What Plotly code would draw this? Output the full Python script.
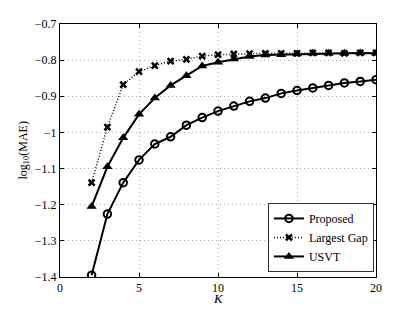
import plotly.graph_objects as go

K = list(range(2, 21))
proposed = [-1.395, -1.226, -1.139, -1.076, -1.032, -1.012, -0.980, -0.959, -0.941,
            -0.927, -0.914, -0.905, -0.892, -0.884, -0.877, -0.870, -0.863, -0.859, -0.854]
largest_gap = [-1.139, -0.985, -0.868, -0.832, -0.815, -0.803, -0.798, -0.789, -0.785,
               -0.783, -0.782, -0.781, -0.781, -0.781, -0.780, -0.780, -0.781, -0.780, -0.780]
usvt = [-1.205, -1.095, -1.015, -0.950, -0.905, -0.870, -0.843, -0.816, -0.806,
        -0.797, -0.790, -0.786, -0.785, -0.783, -0.781, -0.781, -0.781, -0.780, -0.781]

x_ticks = [0, 5, 10, 15, 20]
y_ticks = [-1.4, -1.3, -1.2, -1.1, -1.0, -0.9, -0.8, -0.7]
y_ticktext = ["\u22121.4", "\u22121.3", "\u22121.2", "\u22121.1", "\u22121", "\u22120.9", "\u22120.8", "\u22120.7"]

FONT = "Liberation Serif"

fig = go.Figure()
fig.add_trace(go.Scatter(x=K, y=proposed, name="Proposed", mode="lines+markers",
                         line=dict(color="black", width=2),
                         marker=dict(symbol="circle-open", size=7.5, color="black", line=dict(width=2))))
fig.add_trace(go.Scatter(x=K, y=largest_gap, name="Largest Gap", mode="lines+markers",
                         line=dict(color="black", width=1.5, dash="1px,2px"),
                         marker=dict(symbol="x-thin-open", size=6, color="black", line=dict(width=2.5))))
fig.add_trace(go.Scatter(x=K, y=usvt, name="USVT", mode="lines+markers",
                         line=dict(color="black", width=2),
                         marker=dict(symbol="triangle-up", size=9, color="black")))

axis_common = dict(showline=True, linecolor="black", linewidth=1, mirror="ticks",
                   ticks="inside", ticklen=4, tickcolor="black", automargin=False,
                   showgrid=True, gridcolor="#b0b0b0", griddash="1px,3px", gridwidth=1,
                   zeroline=False, tickfont=dict(family=FONT, size=12, color="black"))

fig.update_xaxes(range=[0, 20], tickvals=x_ticks, **axis_common)
fig.update_yaxes(range=[-1.4, -0.7], tickvals=y_ticks, ticktext=y_ticktext, **axis_common)

fig.add_annotation(text="<i>K</i>", xref="paper", yref="paper", x=0.5, y=0,
                   xanchor="center", yanchor="middle", yshift=-21, showarrow=False,
                   font=dict(family=FONT, size=13, color="black"))
fig.add_annotation(text="log<sub>10</sub>(MAE)", xref="paper", yref="paper", x=0, y=0.5,
                   xanchor="center", yanchor="middle", xshift=-37, textangle=-90, showarrow=False,
                   font=dict(family=FONT, size=12, color="black"))

fig.update_layout(width=407, height=304, margin=dict(l=52, r=39, t=16, b=35, autoexpand=False),
                  plot_bgcolor="white", paper_bgcolor="white",
                  font=dict(family=FONT, size=12, color="black"),
                  legend=dict(x=0.658, y=0.02, xanchor="left", yanchor="bottom",
                              bgcolor="white", bordercolor="#333333", borderwidth=1,
                              font=dict(family=FONT, size=12, color="black"),
                              tracegroupgap=0, itemwidth=30))

fig.write_html("out.html")
